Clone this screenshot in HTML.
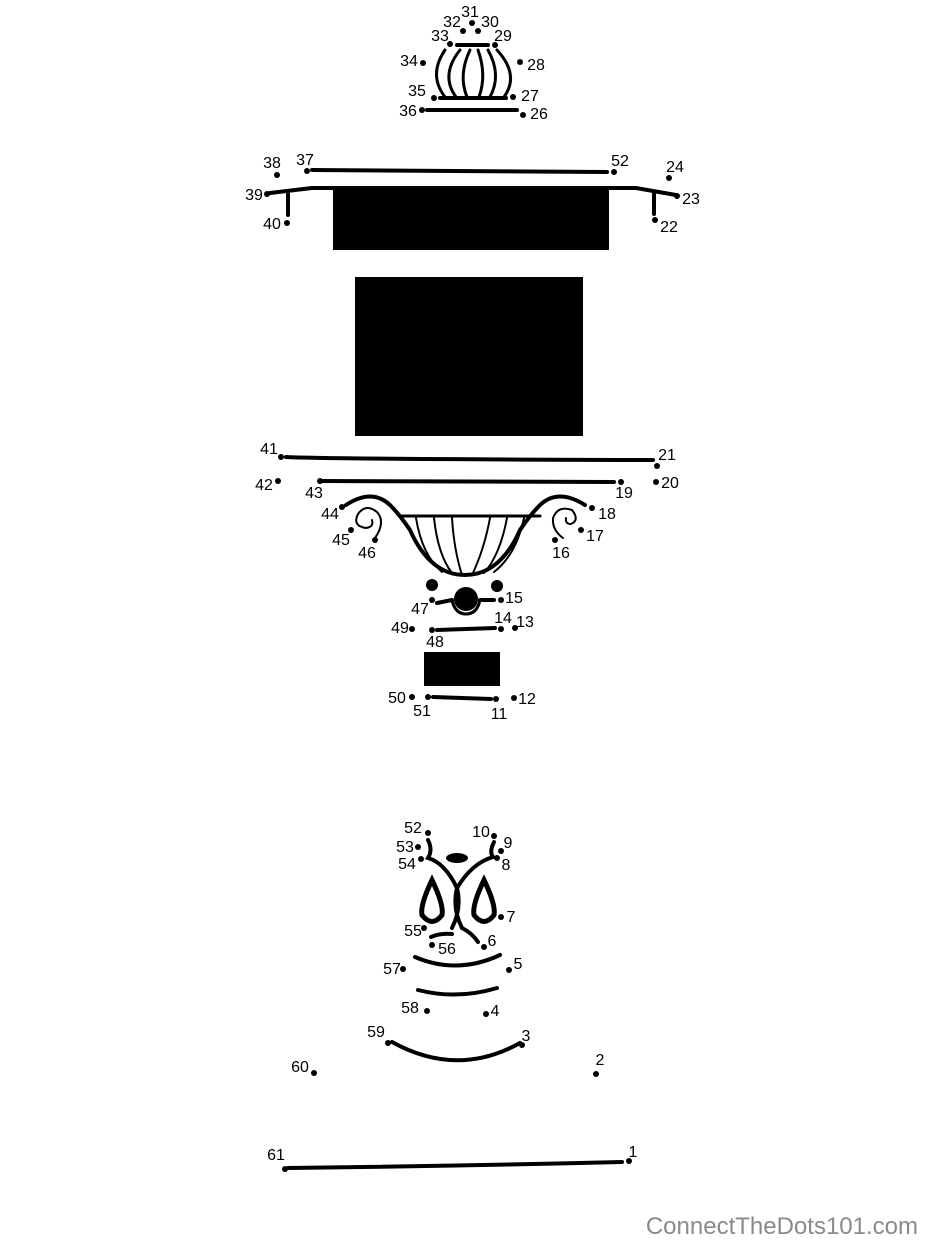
<!DOCTYPE html>
<html><head><meta charset="utf-8"><style>
html,body{margin:0;padding:0;background:#fff}
svg{display:block}
text{font-family:"Liberation Sans",sans-serif;font-size:16px;fill:#000}
</style></head><body>
<svg width="927" height="1250" viewBox="0 0 927 1250" xmlns="http://www.w3.org/2000/svg">
<g fill="none" stroke="#000" stroke-width="4" stroke-linecap="round">
<path d="M457 45 L488 45" />
<path d="M445 50 Q428 75 445 97" stroke-width="3"/>
<path d="M460 50 Q440 75 456 97" stroke-width="3"/>
<path d="M470 50 Q458 75 467 97" stroke-width="3"/>
<path d="M478 50 Q487 75 479 97" stroke-width="3"/>
<path d="M488 50 Q502 75 490 97" stroke-width="3"/>
<path d="M497 50 Q520 75 504 97" stroke-width="3"/>
<path d="M440 98 L506 98"/>
<path d="M427 110 L517 110"/>
<path d="M312 170 L607 172"/>
<path d="M270 193 L312 188 L636 188 L676 195" />
<path d="M288 194 L288 215"/>
<path d="M654 194 L654 214"/>
<path d="M286 457 Q320 459 653 460"/>
<path d="M320 481 L614 482"/>
<path d="M346 505 Q372 488 390 505 Q400 515 410 530 Q430 575 465 575 Q500 575 520 530 Q530 515 540 505 Q558 488 585 505"/>
<path d="M400 516 L540 516" stroke-width="3"/>
<g stroke-width="2">
<path d="M416 518 Q422 555 442 572"/><path d="M434 518 Q438 555 452 573"/><path d="M452 518 Q454 550 462 575"/>
<path d="M490 518 Q484 550 472 575"/><path d="M507 518 Q500 555 484 573"/><path d="M524 518 Q516 555 494 572"/>
<path d="M375 538 Q386 522 377 512 Q366 503 358 514 Q352 526 366 528 Q374 527 372 520"/>
<path d="M563 538 Q552 530 553 518 Q558 505 572 510 Q580 520 571 524 Q565 524 566 518"/>
</g>
<path d="M437 603 L452 600"/><path d="M480 600 L494 600"/>
<path d="M452 600 Q455 614 466 614 Q477 614 480 600" stroke-width="3"/>
<path d="M437 630 L495 628"/>
<path d="M433 697 L491 699"/>
<path d="M428 840 Q433 850 428 858 Q445 863 457 888 Q452 908 462 928"/>
<path d="M494 842 Q489 852 493 857 Q472 863 457 888 Q462 908 452 928" />
<path d="M432 880 Q420 905 422 915 Q432 928 442 915 Q444 905 432 880Z" stroke-width="5"/>
<path d="M484 880 Q472 905 474 915 Q484 928 494 915 Q496 905 484 880Z" stroke-width="5"/>
<path d="M431 937 Q440 933 452 934"/>
<path d="M462 928 Q472 933 478 942"/>
<path d="M415 957 Q457 975 500 955"/>
<path d="M418 990 Q457 1000 497 988"/>
<path d="M392 1042 Q457 1078 520 1043"/>
<path d="M288 1168 Q460 1166 622 1162"/>
</g>
<g fill="#000">
<rect x="333" y="188" width="276" height="62"/>
<rect x="355" y="277" width="228" height="159"/>
<rect x="424" y="652" width="76" height="34"/>
<circle cx="432" cy="585" r="6"/><circle cx="497" cy="586" r="6"/><circle cx="466" cy="599" r="12"/>
<ellipse cx="457" cy="858" rx="11" ry="5"/>
<g>
<circle cx="472" cy="23" r="3"/><circle cx="463" cy="31" r="3"/><circle cx="478" cy="31" r="3"/>
<circle cx="450" cy="44" r="3"/><circle cx="495" cy="45" r="3"/><circle cx="423" cy="63" r="3"/>
<circle cx="520" cy="62" r="3"/><circle cx="434" cy="98" r="3"/><circle cx="513" cy="97" r="3"/>
<circle cx="422" cy="110" r="3"/><circle cx="523" cy="115" r="3"/>
<circle cx="277" cy="175" r="3"/><circle cx="307" cy="171" r="3"/><circle cx="614" cy="172" r="3"/>
<circle cx="669" cy="178" r="3"/><circle cx="267" cy="194" r="3"/><circle cx="677" cy="196" r="3"/>
<circle cx="287" cy="223" r="3"/><circle cx="655" cy="220" r="3"/>
<circle cx="281" cy="457" r="3"/><circle cx="657" cy="466" r="3"/><circle cx="278" cy="481" r="3"/>
<circle cx="656" cy="482" r="3"/><circle cx="320" cy="481" r="3"/><circle cx="621" cy="482" r="3"/>
<circle cx="342" cy="507" r="3"/><circle cx="592" cy="508" r="3"/><circle cx="351" cy="530" r="3"/>
<circle cx="581" cy="530" r="3"/><circle cx="375" cy="540" r="3"/><circle cx="555" cy="540" r="3"/>
<circle cx="432" cy="600" r="3"/><circle cx="501" cy="600" r="3"/>
<circle cx="412" cy="629" r="3"/><circle cx="432" cy="630" r="3"/><circle cx="501" cy="629" r="3"/><circle cx="515" cy="628" r="3"/>
<circle cx="412" cy="697" r="3"/><circle cx="428" cy="697" r="3"/><circle cx="496" cy="699" r="3"/><circle cx="514" cy="698" r="3"/>
<circle cx="428" cy="833" r="3"/><circle cx="494" cy="836" r="3"/><circle cx="418" cy="847" r="3"/>
<circle cx="501" cy="851" r="3"/><circle cx="421" cy="859" r="3"/><circle cx="497" cy="858" r="3"/>
<circle cx="501" cy="917" r="3"/><circle cx="424" cy="928" r="3"/><circle cx="484" cy="947" r="3"/>
<circle cx="432" cy="945" r="3"/><circle cx="403" cy="969" r="3"/><circle cx="509" cy="970" r="3"/>
<circle cx="427" cy="1011" r="3"/><circle cx="486" cy="1014" r="3"/><circle cx="388" cy="1043" r="3"/>
<circle cx="522" cy="1045" r="3"/><circle cx="314" cy="1073" r="3"/><circle cx="596" cy="1074" r="3"/>
<circle cx="285" cy="1169" r="3"/><circle cx="629" cy="1161" r="3"/>
</g>
</g>
<g text-anchor="middle">
<text x="470" y="17">31</text><text x="452" y="27">32</text><text x="490" y="27">30</text>
<text x="440" y="41">33</text><text x="503" y="41">29</text><text x="409" y="66">34</text>
<text x="536" y="70">28</text><text x="417" y="96">35</text><text x="530" y="101">27</text>
<text x="408" y="116">36</text><text x="539" y="119">26</text>
<text x="272" y="168">38</text><text x="305" y="165">37</text><text x="620" y="166">52</text>
<text x="675" y="172">24</text><text x="254" y="200">39</text><text x="691" y="204">23</text>
<text x="272" y="229">40</text><text x="669" y="232">22</text>
<text x="269" y="454">41</text><text x="667" y="460">21</text><text x="264" y="490">42</text>
<text x="670" y="488">20</text><text x="314" y="498">43</text><text x="624" y="498">19</text>
<text x="330" y="519">44</text><text x="607" y="519">18</text><text x="341" y="545">45</text>
<text x="595" y="541">17</text><text x="367" y="558">46</text><text x="561" y="558">16</text>
<text x="420" y="614">47</text><text x="514" y="603">15</text><text x="400" y="633">49</text>
<text x="435" y="647">48</text><text x="503" y="623">14</text><text x="525" y="627">13</text>
<text x="397" y="703">50</text><text x="422" y="716">51</text><text x="499" y="719">11</text><text x="527" y="704">12</text>
<text x="413" y="833">52</text><text x="481" y="837">10</text><text x="405" y="852">53</text>
<text x="508" y="848">9</text><text x="407" y="869">54</text><text x="506" y="870">8</text>
<text x="511" y="922">7</text><text x="413" y="936">55</text><text x="492" y="946">6</text>
<text x="447" y="954">56</text><text x="392" y="974">57</text><text x="518" y="969">5</text>
<text x="410" y="1013">58</text><text x="495" y="1016">4</text><text x="376" y="1037">59</text>
<text x="526" y="1041">3</text><text x="300" y="1072">60</text><text x="600" y="1065">2</text>
<text x="276" y="1160">61</text><text x="633" y="1157">1</text>
</g>
<text x="918" y="1234" text-anchor="end" style="font-size:24px;fill:#8a8a8a">ConnectTheDots101.com</text>
</svg>
</body></html>
